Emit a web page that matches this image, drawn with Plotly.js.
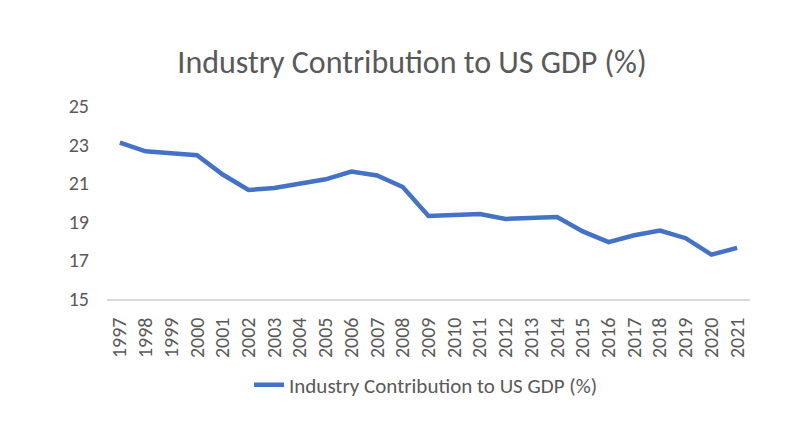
<!DOCTYPE html>
<html><head><meta charset="utf-8">
<script src="https://cdn.plot.ly/plotly-3.0.1.min.js"></script>
<style>body{margin:0;background:#fff}#c{width:800px;height:435px}</style>
</head><body><div id="c"></div>
<script>
const years = ["1997","1998","1999","2000","2001","2002","2003","2004","2005","2006","2007","2008","2009","2010","2011","2012","2013","2014","2015","2016","2017","2018","2019","2020","2021"];
const contribution = [23.1,22.65,22.55,22.45,21.45,20.65,20.75,20.95,21.2,21.6,21.4,20.8,19.3,19.35,19.4,19.15,19.2,19.25,18.5,17.95,18.3,18.55,18.15,17.3,17.65];
const seriesName = "Industry Contribution to US GDP (%)";
const yTicks = [15,17,19,21,23,25];

const font = "Calibri, Carlito, 'Open Sans', sans-serif";
Plotly.newPlot('c', [{
  x: years, y: contribution, type: 'scatter', mode: 'lines', name: seriesName,
  line: {color: '#4472C4', width: 4.5}
}], {
  width: 800, height: 435,
  paper_bgcolor: '#fff', plot_bgcolor: '#fff',
  margin: {l: 107, r: 50, t: 106, b: 136},
  title: {text: 'Industry Contribution to US GDP (%)', x: 0.515, xanchor: 'center', yref: 'container', y: 0.857, yanchor: 'middle',
          font: {family: font, size: 32, color: '#595959'}},
  xaxis: {type: 'category', range: [-0.5, 24.5], tickangle: -90, showline: true, linecolor: '#d9d9d9', linewidth: 1.5,
          automargin: false, showgrid: false, zeroline: false, ticks: '', ticklabelstandoff: 9,
          tickfont: {family: font, size: 20, color: '#595959'}},
  yaxis: {range: [15, 25], tickvals: yTicks, showgrid: false, zeroline: false, showline: false, ticks: '', automargin: false,
          ticklabelstandoff: 17, tickfont: {family: font, size: 20, color: '#595959'}},
  showlegend: true,
  legend: {orientation: 'h', x: 0.5325, xanchor: 'center', xref: 'container', yref: 'container', y: 0.115, yanchor: 'middle',
           font: {family: font, size: 21, color: '#595959'}}
}, {displayModeBar: false, staticPlot: true});
</script></body></html>
